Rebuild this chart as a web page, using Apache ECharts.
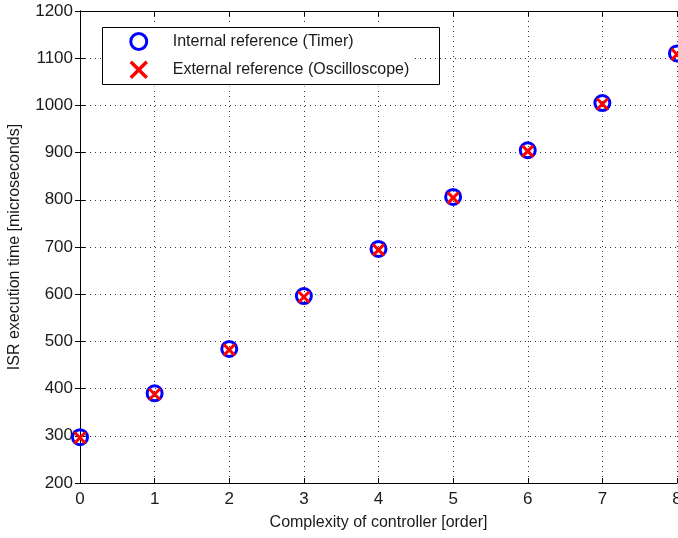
<!DOCTYPE html>
<html>
<head>
<meta charset="utf-8">
<script src="https://cdn.jsdelivr.net/npm/echarts@6/dist/echarts.min.js"></script>
<style>html,body{margin:0;padding:0;background:#fff;overflow:hidden}#c{width:678px;height:538px}</style>
</head>
<body>
<div id="c"></div>
<script>
const orders = [0, 1, 2, 3, 4, 5, 6, 7, 8];
const internalTimer = [297, 390, 484, 596, 696, 806, 905, 1005, 1110];
const externalScope = [296, 388, 482, 594, 694, 804, 903, 1003, 1108];
const xTicks = [0, 1, 2, 3, 4, 5, 6, 7, 8];
const yTicks = [200, 300, 400, 500, 600, 700, 800, 900, 1000, 1100, 1200];

const chart = echarts.init(document.getElementById('c'));
const font = 'Liberation Sans, Arial, sans-serif';
const txt = '#1a1a1a';
const gridLine = {show: true, lineStyle: {color: '#333', type: [1, 4], width: 1}};
const axisLine = {show: true, lineStyle: {color: '#000', width: 1}};
const ticks = {show: true, inside: true, length: 5, lineStyle: {color: '#000'}};

chart.setOption({
  animation: false,
  backgroundColor: '#fff',
  grid: {left: 80, right: 1, top: 11, bottom: 55, containLabel: false, outerBoundsMode: 'none'},
  xAxis: [{
    type: 'value', min: 0, max: 8, interval: 1,
    name: 'Complexity of controller [order]', nameLocation: 'middle', nameGap: 32,
    nameTextStyle: {fontFamily: font, fontSize: 16, color: txt},
    axisLine, axisTick: ticks, splitLine: gridLine,
    axisLabel: {fontFamily: font, fontSize: 17, color: txt, margin: 8, hideOverlap: false,
      formatter: v => xTicks.includes(v) ? String(v) : ''}
  }, {
    type: 'value', min: 0, max: 8, interval: 1, position: 'top',
    axisLine, axisTick: ticks, splitLine: {show: false}, axisLabel: {show: false}
  }],
  yAxis: [{
    type: 'value', min: 200, max: 1200, interval: 100,
    name: 'ISR execution time [microseconds]', nameLocation: 'middle', nameGap: 57,
    nameTextStyle: {fontFamily: font, fontSize: 16, color: txt},
    axisLine, axisTick: ticks, splitLine: gridLine,
    axisLabel: {fontFamily: font, fontSize: 17, color: txt, margin: 7, hideOverlap: false,
      formatter: v => yTicks.includes(v) ? String(v) : ''}
  }, {
    type: 'value', min: 200, max: 1200, interval: 100, position: 'right',
    axisLine, axisTick: ticks, splitLine: {show: false}, axisLabel: {show: false}
  }],
  legend: {
    orient: 'vertical', left: 101, top: 26,
    padding: [6, 4, 7, 28], itemGap: 9, itemWidth: 18, itemHeight: 16,
    backgroundColor: '#fff',
    textStyle: {fontFamily: font, fontSize: 16, color: txt, padding: [0, 0, 0, 20]},
    data: [
      {name: 'Internal reference (Timer)', itemStyle: {borderWidth: 3}},
      {name: 'External reference (Oscilloscope)', itemStyle: {borderWidth: 3.5}}
    ]
  },
  graphic: [{
    type: 'rect', left: 100, top: 25, z: 100,
    shape: {width: 337, height: 57},
    style: {fill: 'none', stroke: '#000', lineWidth: 1}
  }],
  series: [{
    name: 'Internal reference (Timer)', type: 'scatter', clip: true,
    symbol: 'circle', symbolSize: 15,
    itemStyle: {color: 'rgba(0,0,0,0)', borderColor: '#0000ff', borderWidth: 3, opacity: 1},
    data: orders.map((o, i) => [o, internalTimer[i]])
  }, {
    name: 'External reference (Oscilloscope)', type: 'scatter', clip: true,
    symbol: 'path://M0,0L10,10M10,0L0,10', symbolSize: 11,
    itemStyle: {color: '#ff0000', borderColor: '#ff0000', borderWidth: 3, opacity: 1},
    data: orders.map((o, i) => [o, externalScope[i]])
  }]
});
</script>
</body>
</html>
